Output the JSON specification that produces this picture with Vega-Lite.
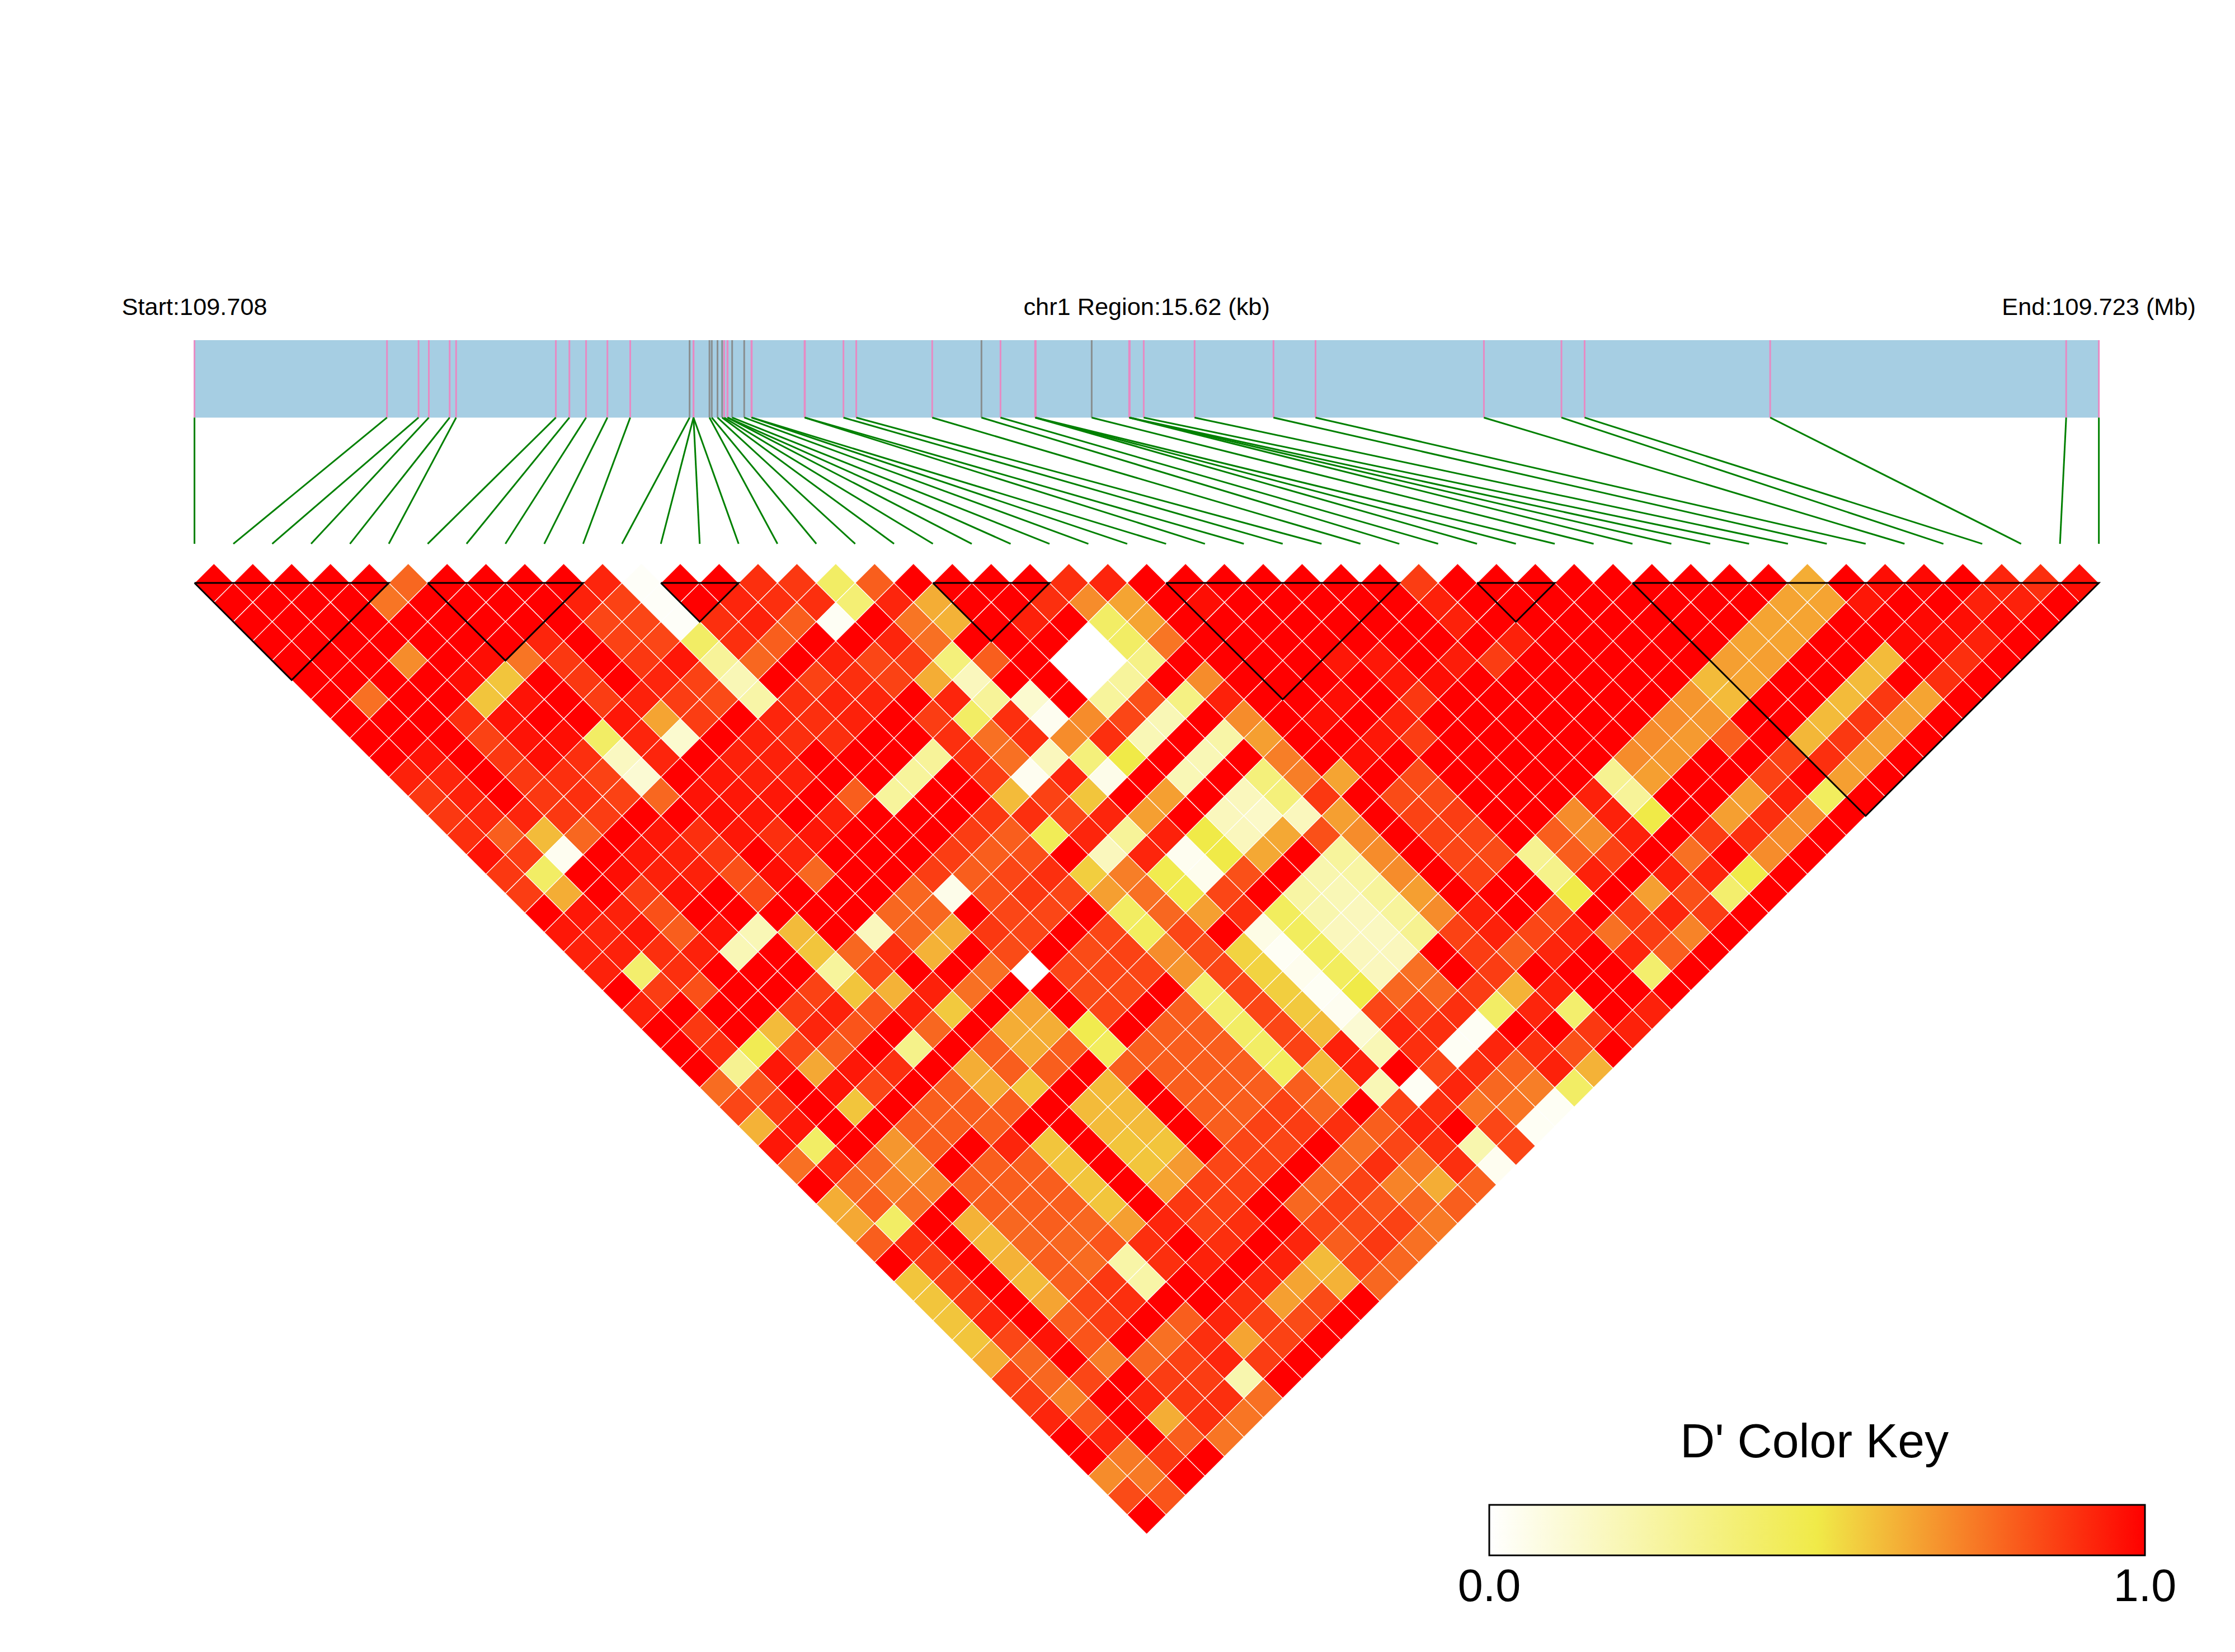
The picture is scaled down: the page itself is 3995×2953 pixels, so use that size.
{"$schema":"https://vega.github.io/schema/vega-lite/v6.json","width":3995,"height":2953,"autosize":{"type":"fit","contains":"padding"},"padding":0,"background":"white","config":{"view":{"stroke":null}},
"datasets":{
"snps":[{"i":1,"kb":0,"k":"p"},{"i":2,"kb":1.579,"k":"p"},{"i":3,"kb":1.838,"k":"p"},{"i":4,"kb":1.922,"k":"p"},{"i":5,"kb":2.093,"k":"p"},{"i":6,"kb":2.146,"k":"p"},{"i":7,"kb":2.964,"k":"p"},{"i":8,"kb":3.075,"k":"p"},{"i":9,"kb":3.212,"k":"p"},{"i":10,"kb":3.387,"k":"p"},{"i":11,"kb":3.574,"k":"p"},{"i":12,"kb":4.061,"k":"g"},{"i":13,"kb":4.093,"k":"p"},{"i":14,"kb":4.093,"k":"p"},{"i":15,"kb":4.093,"k":"p"},{"i":16,"kb":4.224,"k":"g"},{"i":17,"kb":4.243,"k":"g"},{"i":18,"kb":4.29,"k":"g"},{"i":19,"kb":4.328,"k":"g"},{"i":20,"kb":4.345,"k":"p"},{"i":21,"kb":4.371,"k":"p"},{"i":22,"kb":4.373,"k":"p"},{"i":23,"kb":4.41,"k":"g"},{"i":24,"kb":4.509,"k":"g"},{"i":25,"kb":4.568,"k":"p"},{"i":26,"kb":4.571,"k":"p"},{"i":27,"kb":5.004,"k":"p"},{"i":28,"kb":5.007,"k":"p"},{"i":29,"kb":5.323,"k":"p"},{"i":30,"kb":5.428,"k":"p"},{"i":31,"kb":6.051,"k":"p"},{"i":32,"kb":6.455,"k":"g"},{"i":33,"kb":6.611,"k":"p"},{"i":34,"kb":6.895,"k":"p"},{"i":35,"kb":6.897,"k":"p"},{"i":36,"kb":6.9,"k":"p"},{"i":37,"kb":7.359,"k":"g"},{"i":38,"kb":7.666,"k":"p"},{"i":39,"kb":7.669,"k":"p"},{"i":40,"kb":7.671,"k":"p"},{"i":41,"kb":7.786,"k":"p"},{"i":42,"kb":8.203,"k":"p"},{"i":43,"kb":8.85,"k":"p"},{"i":44,"kb":9.195,"k":"p"},{"i":45,"kb":10.576,"k":"p"},{"i":46,"kb":11.212,"k":"p"},{"i":47,"kb":11.402,"k":"p"},{"i":48,"kb":12.924,"k":"p"},{"i":49,"kb":15.352,"k":"p"},{"i":50,"kb":15.62,"k":"p"}],
"blocks":[{"b":1,"o":1,"x":1,"y":1},{"b":1,"o":2,"x":6,"y":1},{"b":1,"o":3,"x":3.5,"y":6},{"b":1,"o":4,"x":1,"y":1},{"b":2,"o":1,"x":7,"y":1},{"b":2,"o":2,"x":11,"y":1},{"b":2,"o":3,"x":9,"y":5},{"b":2,"o":4,"x":7,"y":1},{"b":3,"o":1,"x":13,"y":1},{"b":3,"o":2,"x":15,"y":1},{"b":3,"o":3,"x":14,"y":3},{"b":3,"o":4,"x":13,"y":1},{"b":4,"o":1,"x":20,"y":1},{"b":4,"o":2,"x":23,"y":1},{"b":4,"o":3,"x":21.5,"y":4},{"b":4,"o":4,"x":20,"y":1},{"b":5,"o":1,"x":26,"y":1},{"b":5,"o":2,"x":32,"y":1},{"b":5,"o":3,"x":29,"y":7},{"b":5,"o":4,"x":26,"y":1},{"b":6,"o":1,"x":34,"y":1},{"b":6,"o":2,"x":36,"y":1},{"b":6,"o":3,"x":35,"y":3},{"b":6,"o":4,"x":34,"y":1},{"b":7,"o":1,"x":38,"y":1},{"b":7,"o":2,"x":50,"y":1},{"b":7,"o":3,"x":44,"y":13},{"b":7,"o":4,"x":38,"y":1}],
"cells":[
{"a":1,"d":1,"v":1},{"a":2,"d":1,"v":1},{"a":3,"d":1,"v":1},{"a":4,"d":1,"v":1},{"a":5,"d":1,"v":1},{"a":6,"d":1,"v":0.78},{"a":7,"d":1,"v":1},{"a":8,"d":1,"v":1},{"a":9,"d":1,"v":1},{"a":10,"d":1,"v":1},{"a":11,"d":1,"v":0.92},{"a":12,"d":1,"v":0.02},{"a":13,"d":1,"v":1},{"a":14,"d":1,"v":1},{"a":15,"d":1,"v":0.9},{"a":16,"d":1,"v":0.88},{"a":17,"d":1,"v":0.42},{"a":18,"d":1,"v":0.8},{"a":19,"d":1,"v":1},{"a":20,"d":1,"v":1},{"a":21,"d":1,"v":1},{"a":22,"d":1,"v":1},{"a":23,"d":1,"v":0.9},{"a":24,"d":1,"v":0.92},{"a":25,"d":1,"v":1},{"a":26,"d":1,"v":1},{"a":27,"d":1,"v":1},{"a":28,"d":1,"v":1},{"a":29,"d":1,"v":1},{"a":30,"d":1,"v":1},{"a":31,"d":1,"v":1},{"a":32,"d":1,"v":0.87},{"a":33,"d":1,"v":1},{"a":34,"d":1,"v":1},{"a":35,"d":1,"v":1},{"a":36,"d":1,"v":1},{"a":37,"d":1,"v":1},{"a":38,"d":1,"v":1},{"a":39,"d":1,"v":1},{"a":40,"d":1,"v":1},{"a":41,"d":1,"v":1},{"a":42,"d":1,"v":0.63},{"a":43,"d":1,"v":1},{"a":44,"d":1,"v":0.97},{"a":45,"d":1,"v":0.98},{"a":46,"d":1,"v":1},{"a":47,"d":1,"v":0.92},{"a":48,"d":1,"v":0.9},{"a":49,"d":1,"v":0.97},
{"a":1,"d":2,"v":1},{"a":2,"d":2,"v":1},{"a":3,"d":2,"v":1},{"a":4,"d":2,"v":1},{"a":5,"d":2,"v":0.75},{"a":6,"d":2,"v":1},{"a":7,"d":2,"v":1},{"a":8,"d":2,"v":1},{"a":9,"d":2,"v":1},{"a":10,"d":2,"v":0.93},{"a":11,"d":2,"v":0.86},{"a":12,"d":2,"v":0.02},{"a":13,"d":2,"v":1},{"a":14,"d":2,"v":0.92},{"a":15,"d":2,"v":0.9},{"a":16,"d":2,"v":0.9},{"a":17,"d":2,"v":0.38},{"a":18,"d":2,"v":0.92},{"a":19,"d":2,"v":0.63},{"a":20,"d":2,"v":1},{"a":21,"d":2,"v":1},{"a":22,"d":2,"v":0.9},{"a":23,"d":2,"v":0.7},{"a":24,"d":2,"v":0.65},{"a":25,"d":2,"v":1},{"a":26,"d":2,"v":0.97},{"a":27,"d":2,"v":1},{"a":28,"d":2,"v":1},{"a":29,"d":2,"v":1},{"a":30,"d":2,"v":1},{"a":31,"d":2,"v":1},{"a":32,"d":2,"v":0.93},{"a":33,"d":2,"v":1},{"a":34,"d":2,"v":1},{"a":35,"d":2,"v":1},{"a":36,"d":2,"v":1},{"a":37,"d":2,"v":1},{"a":38,"d":2,"v":1},{"a":39,"d":2,"v":1},{"a":40,"d":2,"v":1},{"a":41,"d":2,"v":0.65},{"a":42,"d":2,"v":0.65},{"a":43,"d":2,"v":0.95},{"a":44,"d":2,"v":1},{"a":45,"d":2,"v":1},{"a":46,"d":2,"v":0.93},{"a":47,"d":2,"v":0.93},{"a":48,"d":2,"v":1},
{"a":1,"d":3,"v":1},{"a":2,"d":3,"v":1},{"a":3,"d":3,"v":1},{"a":4,"d":3,"v":1},{"a":5,"d":3,"v":1},{"a":6,"d":3,"v":1},{"a":7,"d":3,"v":1},{"a":8,"d":3,"v":1},{"a":9,"d":3,"v":1},{"a":10,"d":3,"v":0.85},{"a":11,"d":3,"v":0.85},{"a":12,"d":3,"v":0.02},{"a":13,"d":3,"v":0.9},{"a":14,"d":3,"v":0.93},{"a":15,"d":3,"v":0.8},{"a":16,"d":3,"v":0.03},{"a":17,"d":3,"v":1},{"a":18,"d":3,"v":0.75},{"a":19,"d":3,"v":0.62},{"a":20,"d":3,"v":1},{"a":21,"d":3,"v":0.93},{"a":22,"d":3,"v":1},{"a":23,"d":3,"v":0.42},{"a":24,"d":3,"v":0.65},{"a":25,"d":3,"v":1},{"a":26,"d":3,"v":1},{"a":27,"d":3,"v":1},{"a":28,"d":3,"v":1},{"a":29,"d":3,"v":1},{"a":30,"d":3,"v":1},{"a":31,"d":3,"v":1},{"a":32,"d":3,"v":0.93},{"a":33,"d":3,"v":1},{"a":34,"d":3,"v":1},{"a":35,"d":3,"v":1},{"a":36,"d":3,"v":1},{"a":37,"d":3,"v":1},{"a":38,"d":3,"v":1},{"a":39,"d":3,"v":1},{"a":40,"d":3,"v":0.65},{"a":41,"d":3,"v":0.65},{"a":42,"d":3,"v":1},{"a":43,"d":3,"v":1},{"a":44,"d":3,"v":0.98},{"a":45,"d":3,"v":0.97},{"a":46,"d":3,"v":0.98},{"a":47,"d":3,"v":1},
{"a":1,"d":4,"v":1},{"a":2,"d":4,"v":1},{"a":3,"d":4,"v":1},{"a":4,"d":4,"v":1},{"a":5,"d":4,"v":1},{"a":6,"d":4,"v":1},{"a":7,"d":4,"v":1},{"a":8,"d":4,"v":0.92},{"a":9,"d":4,"v":1},{"a":10,"d":4,"v":0.86},{"a":11,"d":4,"v":0.85},{"a":12,"d":4,"v":0.42},{"a":13,"d":4,"v":0.9},{"a":14,"d":4,"v":0.8},{"a":15,"d":4,"v":1},{"a":16,"d":4,"v":1},{"a":17,"d":4,"v":0.92},{"a":18,"d":4,"v":0.76},{"a":19,"d":4,"v":1},{"a":20,"d":4,"v":1},{"a":21,"d":4,"v":1},{"a":22,"d":4,"v":0},{"a":23,"d":4,"v":0.42},{"a":24,"d":4,"v":0.75},{"a":25,"d":4,"v":1},{"a":26,"d":4,"v":1},{"a":27,"d":4,"v":1},{"a":28,"d":4,"v":1},{"a":29,"d":4,"v":1},{"a":30,"d":4,"v":1},{"a":31,"d":4,"v":1},{"a":32,"d":4,"v":1},{"a":33,"d":4,"v":0.93},{"a":34,"d":4,"v":1},{"a":35,"d":4,"v":1},{"a":36,"d":4,"v":1},{"a":37,"d":4,"v":1},{"a":38,"d":4,"v":1},{"a":39,"d":4,"v":0.65},{"a":40,"d":4,"v":0.65},{"a":41,"d":4,"v":1},{"a":42,"d":4,"v":1},{"a":43,"d":4,"v":0.98},{"a":44,"d":4,"v":0.97},{"a":45,"d":4,"v":0.93},{"a":46,"d":4,"v":1},
{"a":1,"d":5,"v":1},{"a":2,"d":5,"v":1},{"a":3,"d":5,"v":1},{"a":4,"d":5,"v":0.7},{"a":5,"d":5,"v":1},{"a":6,"d":5,"v":0.97},{"a":7,"d":5,"v":0.75},{"a":8,"d":5,"v":0.88},{"a":9,"d":5,"v":1},{"a":10,"d":5,"v":0.88},{"a":11,"d":5,"v":0.95},{"a":12,"d":5,"v":0.28},{"a":13,"d":5,"v":0.78},{"a":14,"d":5,"v":1},{"a":15,"d":5,"v":0.93},{"a":16,"d":5,"v":0.85},{"a":17,"d":5,"v":0.87},{"a":18,"d":5,"v":0.36},{"a":19,"d":5,"v":0.8},{"a":20,"d":5,"v":1},{"a":21,"d":5,"v":0},{"a":22,"d":5,"v":0},{"a":23,"d":5,"v":0.33},{"a":24,"d":5,"v":1},{"a":25,"d":5,"v":1},{"a":26,"d":5,"v":1},{"a":27,"d":5,"v":1},{"a":28,"d":5,"v":0.95},{"a":29,"d":5,"v":0.95},{"a":30,"d":5,"v":1},{"a":31,"d":5,"v":0.94},{"a":32,"d":5,"v":0.87},{"a":33,"d":5,"v":1},{"a":34,"d":5,"v":1},{"a":35,"d":5,"v":1},{"a":36,"d":5,"v":1},{"a":37,"d":5,"v":1},{"a":38,"d":5,"v":0.66},{"a":39,"d":5,"v":0.66},{"a":40,"d":5,"v":1},{"a":41,"d":5,"v":1},{"a":42,"d":5,"v":0.6},{"a":43,"d":5,"v":1},{"a":44,"d":5,"v":0.9},{"a":45,"d":5,"v":1},
{"a":1,"d":6,"v":1},{"a":2,"d":6,"v":1},{"a":3,"d":6,"v":1},{"a":4,"d":6,"v":1},{"a":5,"d":6,"v":0.97},{"a":6,"d":6,"v":0.58},{"a":7,"d":6,"v":1},{"a":8,"d":6,"v":0.88},{"a":9,"d":6,"v":1},{"a":10,"d":6,"v":0.92},{"a":11,"d":6,"v":0.86},{"a":12,"d":6,"v":0.2},{"a":13,"d":6,"v":1},{"a":14,"d":6,"v":0.86},{"a":15,"d":6,"v":0.9},{"a":16,"d":6,"v":0.86},{"a":17,"d":6,"v":0.63},{"a":18,"d":6,"v":0.18},{"a":19,"d":6,"v":1},{"a":20,"d":6,"v":1},{"a":21,"d":6,"v":0},{"a":22,"d":6,"v":0.27},{"a":23,"d":6,"v":1},{"a":24,"d":6,"v":0.7},{"a":25,"d":6,"v":1},{"a":26,"d":6,"v":1},{"a":27,"d":6,"v":1},{"a":28,"d":6,"v":1},{"a":29,"d":6,"v":0.95},{"a":30,"d":6,"v":0.97},{"a":31,"d":6,"v":1},{"a":32,"d":6,"v":1},{"a":33,"d":6,"v":1},{"a":34,"d":6,"v":1},{"a":35,"d":6,"v":1},{"a":36,"d":6,"v":1},{"a":37,"d":6,"v":0.6},{"a":38,"d":6,"v":0.65},{"a":39,"d":6,"v":1},{"a":40,"d":6,"v":1},{"a":41,"d":6,"v":0.6},{"a":42,"d":6,"v":1},{"a":43,"d":6,"v":0.9},{"a":44,"d":6,"v":1},
{"a":1,"d":7,"v":1},{"a":2,"d":7,"v":0.76},{"a":3,"d":7,"v":1},{"a":4,"d":7,"v":1},{"a":5,"d":7,"v":0.58},{"a":6,"d":7,"v":0.96},{"a":7,"d":7,"v":1},{"a":8,"d":7,"v":0.87},{"a":9,"d":7,"v":0.93},{"a":10,"d":7,"v":0.87},{"a":11,"d":7,"v":0.84},{"a":12,"d":7,"v":0.24},{"a":13,"d":7,"v":0.9},{"a":14,"d":7,"v":0.92},{"a":15,"d":7,"v":0.92},{"a":16,"d":7,"v":1},{"a":17,"d":7,"v":0.92},{"a":18,"d":7,"v":0.28},{"a":19,"d":7,"v":0.13},{"a":20,"d":7,"v":1},{"a":21,"d":7,"v":0.27},{"a":22,"d":7,"v":0.83},{"a":23,"d":7,"v":0.34},{"a":24,"d":7,"v":0.93},{"a":25,"d":7,"v":1},{"a":26,"d":7,"v":1},{"a":27,"d":7,"v":0.97},{"a":28,"d":7,"v":1},{"a":29,"d":7,"v":0.88},{"a":30,"d":7,"v":1},{"a":31,"d":7,"v":1},{"a":32,"d":7,"v":1},{"a":33,"d":7,"v":1},{"a":34,"d":7,"v":1},{"a":35,"d":7,"v":1},{"a":36,"d":7,"v":0.68},{"a":37,"d":7,"v":0.6},{"a":38,"d":7,"v":1},{"a":39,"d":7,"v":1},{"a":40,"d":7,"v":0.6},{"a":41,"d":7,"v":0.88},{"a":42,"d":7,"v":0.65},{"a":43,"d":7,"v":1},
{"a":1,"d":8,"v":1},{"a":2,"d":8,"v":1},{"a":3,"d":8,"v":1},{"a":4,"d":8,"v":0.9},{"a":5,"d":8,"v":0.96},{"a":6,"d":8,"v":1},{"a":7,"d":8,"v":1},{"a":8,"d":8,"v":0.95},{"a":9,"d":8,"v":0.65},{"a":10,"d":8,"v":0.87},{"a":11,"d":8,"v":1},{"a":12,"d":8,"v":0.92},{"a":13,"d":8,"v":0.9},{"a":14,"d":8,"v":0.93},{"a":15,"d":8,"v":1},{"a":16,"d":8,"v":0.87},{"a":17,"d":8,"v":0.42},{"a":18,"d":8,"v":0.9},{"a":19,"d":8,"v":0.04},{"a":20,"d":8,"v":0.7},{"a":21,"d":8,"v":0.85},{"a":22,"d":8,"v":0.2},{"a":23,"d":8,"v":1},{"a":24,"d":8,"v":0.7},{"a":25,"d":8,"v":1},{"a":26,"d":8,"v":0.97},{"a":27,"d":8,"v":1},{"a":28,"d":8,"v":0.93},{"a":29,"d":8,"v":1},{"a":30,"d":8,"v":1},{"a":31,"d":8,"v":1},{"a":32,"d":8,"v":1},{"a":33,"d":8,"v":1},{"a":34,"d":8,"v":1},{"a":35,"d":8,"v":0.7},{"a":36,"d":8,"v":0.68},{"a":37,"d":8,"v":1},{"a":38,"d":8,"v":1},{"a":39,"d":8,"v":0.6},{"a":40,"d":8,"v":0.88},{"a":41,"d":8,"v":0.66},{"a":42,"d":8,"v":1},
{"a":1,"d":9,"v":1},{"a":2,"d":9,"v":1},{"a":3,"d":9,"v":1},{"a":4,"d":9,"v":0.86},{"a":5,"d":9,"v":0.96},{"a":6,"d":9,"v":0.97},{"a":7,"d":9,"v":0.42},{"a":8,"d":9,"v":0.92},{"a":9,"d":9,"v":0.13},{"a":10,"d":9,"v":1},{"a":11,"d":9,"v":0.93},{"a":12,"d":9,"v":0.9},{"a":13,"d":9,"v":0.9},{"a":14,"d":9,"v":1},{"a":15,"d":9,"v":1},{"a":16,"d":9,"v":0.9},{"a":17,"d":9,"v":0.76},{"a":18,"d":9,"v":0.9},{"a":19,"d":9,"v":0.7},{"a":20,"d":9,"v":0.9},{"a":21,"d":9,"v":0.2},{"a":22,"d":9,"v":1},{"a":23,"d":9,"v":0.24},{"a":24,"d":9,"v":0.66},{"a":25,"d":9,"v":1},{"a":26,"d":9,"v":1},{"a":27,"d":9,"v":0.95},{"a":28,"d":9,"v":0.87},{"a":29,"d":9,"v":1},{"a":30,"d":9,"v":1},{"a":31,"d":9,"v":1},{"a":32,"d":9,"v":1},{"a":33,"d":9,"v":1},{"a":34,"d":9,"v":0.7},{"a":35,"d":9,"v":0.67},{"a":36,"d":9,"v":0.8},{"a":37,"d":9,"v":1},{"a":38,"d":9,"v":0.61},{"a":39,"d":9,"v":0.88},{"a":40,"d":9,"v":0.66},{"a":41,"d":9,"v":1},
{"a":1,"d":10,"v":1},{"a":2,"d":10,"v":0.96},{"a":3,"d":10,"v":1},{"a":4,"d":10,"v":0.88},{"a":5,"d":10,"v":0.97},{"a":6,"d":10,"v":0.9},{"a":7,"d":10,"v":0.17},{"a":8,"d":10,"v":0.92},{"a":9,"d":10,"v":1},{"a":10,"d":10,"v":0.93},{"a":11,"d":10,"v":0.93},{"a":12,"d":10,"v":1},{"a":13,"d":10,"v":1},{"a":14,"d":10,"v":1},{"a":15,"d":10,"v":0.28},{"a":16,"d":10,"v":0.9},{"a":17,"d":10,"v":0.76},{"a":18,"d":10,"v":0.18},{"a":19,"d":10,"v":0.36},{"a":20,"d":10,"v":0.5},{"a":21,"d":10,"v":1},{"a":22,"d":10,"v":0.2},{"a":23,"d":10,"v":1},{"a":24,"d":10,"v":0.73},{"a":25,"d":10,"v":1},{"a":26,"d":10,"v":0.97},{"a":27,"d":10,"v":1},{"a":28,"d":10,"v":1},{"a":29,"d":10,"v":1},{"a":30,"d":10,"v":1},{"a":31,"d":10,"v":1},{"a":32,"d":10,"v":1},{"a":33,"d":10,"v":0.7},{"a":34,"d":10,"v":0.68},{"a":35,"d":10,"v":1},{"a":36,"d":10,"v":1},{"a":37,"d":10,"v":0.86},{"a":38,"d":10,"v":0.9},{"a":39,"d":10,"v":0.66},{"a":40,"d":10,"v":1},
{"a":1,"d":11,"v":0.93},{"a":2,"d":11,"v":0.92},{"a":3,"d":11,"v":1},{"a":4,"d":11,"v":0.88},{"a":5,"d":11,"v":0.9},{"a":6,"d":11,"v":0.86},{"a":7,"d":11,"v":0.12},{"a":8,"d":11,"v":1},{"a":9,"d":11,"v":0.95},{"a":10,"d":11,"v":0.93},{"a":11,"d":11,"v":0.93},{"a":12,"d":11,"v":1},{"a":13,"d":11,"v":1},{"a":14,"d":11,"v":0.27},{"a":15,"d":11,"v":1},{"a":16,"d":11,"v":0.87},{"a":17,"d":11,"v":0.04},{"a":18,"d":11,"v":0.92},{"a":19,"d":11,"v":0.06},{"a":20,"d":11,"v":1},{"a":21,"d":11,"v":0.2},{"a":22,"d":11,"v":1},{"a":23,"d":11,"v":0.36},{"a":24,"d":11,"v":0.73},{"a":25,"d":11,"v":0.65},{"a":26,"d":11,"v":1},{"a":27,"d":11,"v":0.84},{"a":28,"d":11,"v":1},{"a":29,"d":11,"v":1},{"a":30,"d":11,"v":1},{"a":31,"d":11,"v":1},{"a":32,"d":11,"v":0.3},{"a":33,"d":11,"v":0.66},{"a":34,"d":11,"v":1},{"a":35,"d":11,"v":1},{"a":36,"d":11,"v":0.86},{"a":37,"d":11,"v":1},{"a":38,"d":11,"v":0.66},{"a":39,"d":11,"v":1},
{"a":1,"d":12,"v":0.88},{"a":2,"d":12,"v":0.93},{"a":3,"d":12,"v":1},{"a":4,"d":12,"v":0.88},{"a":5,"d":12,"v":0.9},{"a":6,"d":12,"v":0.86},{"a":7,"d":12,"v":0.78},{"a":8,"d":12,"v":0.96},{"a":9,"d":12,"v":0.95},{"a":10,"d":12,"v":0.95},{"a":11,"d":12,"v":1},{"a":12,"d":12,"v":0.8},{"a":13,"d":12,"v":0.27},{"a":14,"d":12,"v":1},{"a":15,"d":12,"v":1},{"a":16,"d":12,"v":0.6},{"a":17,"d":12,"v":0.86},{"a":18,"d":12,"v":0.58},{"a":19,"d":12,"v":1},{"a":20,"d":12,"v":0.66},{"a":21,"d":12,"v":1},{"a":22,"d":12,"v":0.18},{"a":23,"d":12,"v":0.36},{"a":24,"d":12,"v":0.88},{"a":25,"d":12,"v":1},{"a":26,"d":12,"v":0.84},{"a":27,"d":12,"v":0.84},{"a":28,"d":12,"v":1},{"a":29,"d":12,"v":1},{"a":30,"d":12,"v":1},{"a":31,"d":12,"v":0.93},{"a":32,"d":12,"v":0.28},{"a":33,"d":12,"v":1},{"a":34,"d":12,"v":1},{"a":35,"d":12,"v":0.66},{"a":36,"d":12,"v":0.93},{"a":37,"d":12,"v":0.44},{"a":38,"d":12,"v":1},
{"a":1,"d":13,"v":0.88},{"a":2,"d":13,"v":0.92},{"a":3,"d":13,"v":0.92},{"a":4,"d":13,"v":0.88},{"a":5,"d":13,"v":0.87},{"a":6,"d":13,"v":1},{"a":7,"d":13,"v":1},{"a":8,"d":13,"v":0.97},{"a":9,"d":13,"v":0.95},{"a":10,"d":13,"v":1},{"a":11,"d":13,"v":0.93},{"a":12,"d":13,"v":1},{"a":13,"d":13,"v":1},{"a":14,"d":13,"v":1},{"a":15,"d":13,"v":0.88},{"a":16,"d":13,"v":0.9},{"a":17,"d":13,"v":0.85},{"a":18,"d":13,"v":0.92},{"a":19,"d":13,"v":0.66},{"a":20,"d":13,"v":1},{"a":21,"d":13,"v":0.18},{"a":22,"d":13,"v":0.15},{"a":23,"d":13,"v":0.18},{"a":24,"d":13,"v":0.66},{"a":25,"d":13,"v":1},{"a":26,"d":13,"v":0.86},{"a":27,"d":13,"v":0.87},{"a":28,"d":13,"v":1},{"a":29,"d":13,"v":1},{"a":30,"d":13,"v":0.7},{"a":31,"d":13,"v":0.93},{"a":32,"d":13,"v":0.5},{"a":33,"d":13,"v":1},{"a":34,"d":13,"v":0.66},{"a":35,"d":13,"v":0.9},{"a":36,"d":13,"v":0.7},{"a":37,"d":13,"v":1},
{"a":1,"d":14,"v":0.9},{"a":2,"d":14,"v":0.8},{"a":3,"d":14,"v":0.6},{"a":4,"d":14,"v":0.78},{"a":5,"d":14,"v":1},{"a":6,"d":14,"v":0.95},{"a":7,"d":14,"v":0.9},{"a":8,"d":14,"v":0.95},{"a":9,"d":14,"v":0.9},{"a":10,"d":14,"v":0.95},{"a":11,"d":14,"v":1},{"a":12,"d":14,"v":1},{"a":13,"d":14,"v":1},{"a":14,"d":14,"v":0.87},{"a":15,"d":14,"v":0.8},{"a":16,"d":14,"v":0.46},{"a":17,"d":14,"v":0.92},{"a":18,"d":14,"v":0.28},{"a":19,"d":14,"v":0.93},{"a":20,"d":14,"v":0.5},{"a":21,"d":14,"v":0.18},{"a":22,"d":14,"v":0.64},{"a":23,"d":14,"v":0.83},{"a":24,"d":14,"v":0.7},{"a":25,"d":14,"v":1},{"a":26,"d":14,"v":0.86},{"a":27,"d":14,"v":0.85},{"a":28,"d":14,"v":1},{"a":29,"d":14,"v":0.8},{"a":30,"d":14,"v":0.7},{"a":31,"d":14,"v":0.93},{"a":32,"d":14,"v":1},{"a":33,"d":14,"v":0.87},{"a":34,"d":14,"v":0.9},{"a":35,"d":14,"v":0.7},{"a":36,"d":14,"v":1},
{"a":1,"d":15,"v":0.96},{"a":2,"d":15,"v":0.87},{"a":3,"d":15,"v":0.04},{"a":4,"d":15,"v":1},{"a":5,"d":15,"v":0.95},{"a":6,"d":15,"v":0.93},{"a":7,"d":15,"v":0.88},{"a":8,"d":15,"v":1},{"a":9,"d":15,"v":0.92},{"a":10,"d":15,"v":1},{"a":11,"d":15,"v":1},{"a":12,"d":15,"v":1},{"a":13,"d":15,"v":0.87},{"a":14,"d":15,"v":0.8},{"a":15,"d":15,"v":0.83},{"a":16,"d":15,"v":1},{"a":17,"d":15,"v":0.18},{"a":18,"d":15,"v":0.92},{"a":19,"d":15,"v":0.04},{"a":20,"d":15,"v":0.5},{"a":21,"d":15,"v":0.64},{"a":22,"d":15,"v":1},{"a":23,"d":15,"v":0.27},{"a":24,"d":15,"v":0.7},{"a":25,"d":15,"v":1},{"a":26,"d":15,"v":0.85},{"a":27,"d":15,"v":0.84},{"a":28,"d":15,"v":0.3},{"a":29,"d":15,"v":0.8},{"a":30,"d":15,"v":0.86},{"a":31,"d":15,"v":1},{"a":32,"d":15,"v":0.76},{"a":33,"d":15,"v":1},{"a":34,"d":15,"v":0.7},{"a":35,"d":15,"v":1},
{"a":1,"d":16,"v":0.88},{"a":2,"d":16,"v":0.42},{"a":3,"d":16,"v":1},{"a":4,"d":16,"v":0.97},{"a":5,"d":16,"v":0.93},{"a":6,"d":16,"v":0.93},{"a":7,"d":16,"v":0.83},{"a":8,"d":16,"v":0.97},{"a":9,"d":16,"v":0.78},{"a":10,"d":16,"v":1},{"a":11,"d":16,"v":1},{"a":12,"d":16,"v":0.87},{"a":13,"d":16,"v":0.8},{"a":14,"d":16,"v":0.85},{"a":15,"d":16,"v":0.9},{"a":16,"d":16,"v":0.56},{"a":17,"d":16,"v":0.73},{"a":18,"d":16,"v":0.48},{"a":19,"d":16,"v":0.05},{"a":20,"d":16,"v":0.83},{"a":21,"d":16,"v":1},{"a":22,"d":16,"v":0.22},{"a":23,"d":16,"v":0.25},{"a":24,"d":16,"v":0.7},{"a":25,"d":16,"v":1},{"a":26,"d":16,"v":0.86},{"a":27,"d":16,"v":1},{"a":28,"d":16,"v":0.32},{"a":29,"d":16,"v":0.93},{"a":30,"d":16,"v":1},{"a":31,"d":16,"v":0.93},{"a":32,"d":16,"v":0.92},{"a":33,"d":16,"v":0.5},{"a":34,"d":16,"v":1},
{"a":1,"d":17,"v":0.87},{"a":2,"d":17,"v":0.63},{"a":3,"d":17,"v":1},{"a":4,"d":17,"v":0.87},{"a":5,"d":17,"v":0.96},{"a":6,"d":17,"v":1},{"a":7,"d":17,"v":0.84},{"a":8,"d":17,"v":1},{"a":9,"d":17,"v":1},{"a":10,"d":17,"v":1},{"a":11,"d":17,"v":0.78},{"a":12,"d":17,"v":0.06},{"a":13,"d":17,"v":0.83},{"a":14,"d":17,"v":0.88},{"a":15,"d":17,"v":0.85},{"a":16,"d":17,"v":0.66},{"a":17,"d":17,"v":0.76},{"a":18,"d":17,"v":0.48},{"a":19,"d":17,"v":0.85},{"a":20,"d":17,"v":1},{"a":21,"d":17,"v":0.25},{"a":22,"d":17,"v":0.2},{"a":23,"d":17,"v":0.27},{"a":24,"d":17,"v":0.66},{"a":25,"d":17,"v":1},{"a":26,"d":17,"v":1},{"a":27,"d":17,"v":1},{"a":28,"d":17,"v":0.5},{"a":29,"d":17,"v":1},{"a":30,"d":17,"v":0.66},{"a":31,"d":17,"v":0.83},{"a":32,"d":17,"v":0.4},{"a":33,"d":17,"v":1},
{"a":1,"d":18,"v":1},{"a":2,"d":18,"v":0.95},{"a":3,"d":18,"v":0.93},{"a":4,"d":18,"v":0.83},{"a":5,"d":18,"v":1},{"a":6,"d":18,"v":1},{"a":7,"d":18,"v":1},{"a":8,"d":18,"v":1},{"a":9,"d":18,"v":1},{"a":10,"d":18,"v":0.78},{"a":11,"d":18,"v":0.78},{"a":12,"d":18,"v":1},{"a":13,"d":18,"v":0.85},{"a":14,"d":18,"v":0.85},{"a":15,"d":18,"v":1},{"a":16,"d":18,"v":0.43},{"a":17,"d":18,"v":0.78},{"a":18,"d":18,"v":0.66},{"a":19,"d":18,"v":0.9},{"a":20,"d":18,"v":0.44},{"a":21,"d":18,"v":0.22},{"a":22,"d":18,"v":0.18},{"a":23,"d":18,"v":0.27},{"a":24,"d":18,"v":0.7},{"a":25,"d":18,"v":0.93},{"a":26,"d":18,"v":1},{"a":27,"d":18,"v":0.84},{"a":28,"d":18,"v":1},{"a":29,"d":18,"v":0.87},{"a":30,"d":18,"v":0.92},{"a":31,"d":18,"v":0.87},{"a":32,"d":18,"v":1},
{"a":1,"d":19,"v":0.95},{"a":2,"d":19,"v":0.92},{"a":3,"d":19,"v":0.95},{"a":4,"d":19,"v":0.8},{"a":5,"d":19,"v":0.96},{"a":6,"d":19,"v":0.2},{"a":7,"d":19,"v":0.6},{"a":8,"d":19,"v":1},{"a":9,"d":19,"v":0.18},{"a":10,"d":19,"v":0.78},{"a":11,"d":19,"v":0.63},{"a":12,"d":19,"v":0.88},{"a":13,"d":19,"v":0.85},{"a":14,"d":19,"v":1},{"a":15,"d":19,"v":0.85},{"a":16,"d":19,"v":0.44},{"a":17,"d":19,"v":0.85},{"a":18,"d":19,"v":1},{"a":19,"d":19,"v":0.07},{"a":20,"d":19,"v":0.44},{"a":21,"d":19,"v":0.18},{"a":22,"d":19,"v":0.17},{"a":23,"d":19,"v":0.3},{"a":24,"d":19,"v":0.86},{"a":25,"d":19,"v":0.93},{"a":26,"d":19,"v":0.85},{"a":27,"d":19,"v":0.92},{"a":28,"d":19,"v":0.76},{"a":29,"d":19,"v":0.87},{"a":30,"d":19,"v":0.72},{"a":31,"d":19,"v":1},
{"a":1,"d":20,"v":0.93},{"a":2,"d":20,"v":0.93},{"a":3,"d":20,"v":0.9},{"a":4,"d":20,"v":0.93},{"a":5,"d":20,"v":0.2},{"a":6,"d":20,"v":1},{"a":7,"d":20,"v":0.58},{"a":8,"d":20,"v":0.78},{"a":9,"d":20,"v":0.9},{"a":10,"d":20,"v":0.62},{"a":11,"d":20,"v":1},{"a":12,"d":20,"v":0.84},{"a":13,"d":20,"v":1},{"a":14,"d":20,"v":0.84},{"a":15,"d":20,"v":0.86},{"a":16,"d":20,"v":0.7},{"a":17,"d":20,"v":0.84},{"a":18,"d":20,"v":0.55},{"a":19,"d":20,"v":0.03},{"a":20,"d":20,"v":0.44},{"a":21,"d":20,"v":0.18},{"a":22,"d":20,"v":0.18},{"a":23,"d":20,"v":1},{"a":24,"d":20,"v":0.87},{"a":25,"d":20,"v":0.8},{"a":26,"d":20,"v":0.92},{"a":27,"d":20,"v":1},{"a":28,"d":20,"v":0.92},{"a":29,"d":20,"v":0.8},{"a":30,"d":20,"v":1},
{"a":1,"d":21,"v":0.93},{"a":2,"d":21,"v":0.4},{"a":3,"d":21,"v":0.9},{"a":4,"d":21,"v":1},{"a":5,"d":21,"v":1},{"a":6,"d":21,"v":1},{"a":7,"d":21,"v":0.27},{"a":8,"d":21,"v":0.85},{"a":9,"d":21,"v":1},{"a":10,"d":21,"v":1},{"a":11,"d":21,"v":0.76},{"a":12,"d":21,"v":0},{"a":13,"d":21,"v":0.85},{"a":14,"d":21,"v":0.85},{"a":15,"d":21,"v":0.85},{"a":16,"d":21,"v":0.68},{"a":17,"d":21,"v":0.85},{"a":18,"d":21,"v":0.55},{"a":19,"d":21,"v":0.05},{"a":20,"d":21,"v":0.44},{"a":21,"d":21,"v":0.18},{"a":22,"d":21,"v":0.76},{"a":23,"d":21,"v":1},{"a":24,"d":21,"v":0.87},{"a":25,"d":21,"v":1},{"a":26,"d":21,"v":1},{"a":27,"d":21,"v":1},{"a":28,"d":21,"v":0.4},{"a":29,"d":21,"v":1},
{"a":1,"d":22,"v":1},{"a":2,"d":22,"v":0.87},{"a":3,"d":22,"v":0.83},{"a":4,"d":22,"v":1},{"a":5,"d":22,"v":1},{"a":6,"d":22,"v":0.86},{"a":7,"d":22,"v":0.58},{"a":8,"d":22,"v":0.62},{"a":9,"d":22,"v":0.93},{"a":10,"d":22,"v":0.76},{"a":11,"d":22,"v":1},{"a":12,"d":22,"v":1},{"a":13,"d":22,"v":0.84},{"a":14,"d":22,"v":0.84},{"a":15,"d":22,"v":1},{"a":16,"d":22,"v":0.4},{"a":17,"d":22,"v":0.85},{"a":18,"d":22,"v":0.56},{"a":19,"d":22,"v":0.03},{"a":20,"d":22,"v":0.5},{"a":21,"d":22,"v":0.78},{"a":22,"d":22,"v":0.78},{"a":23,"d":22,"v":0.87},{"a":24,"d":22,"v":0.62},{"a":25,"d":22,"v":0.93},{"a":26,"d":22,"v":1},{"a":27,"d":22,"v":1},{"a":28,"d":22,"v":1},
{"a":1,"d":23,"v":0.93},{"a":2,"d":23,"v":1},{"a":3,"d":23,"v":1},{"a":4,"d":23,"v":1},{"a":5,"d":23,"v":0.87},{"a":6,"d":23,"v":0.93},{"a":7,"d":23,"v":0.82},{"a":8,"d":23,"v":0.93},{"a":9,"d":23,"v":0.57},{"a":10,"d":23,"v":1},{"a":11,"d":23,"v":0.65},{"a":12,"d":23,"v":1},{"a":13,"d":23,"v":0.85},{"a":14,"d":23,"v":1},{"a":15,"d":23,"v":0.8},{"a":16,"d":23,"v":0.4},{"a":17,"d":23,"v":0.85},{"a":18,"d":23,"v":0.57},{"a":19,"d":23,"v":0.04},{"a":20,"d":23,"v":0.85},{"a":21,"d":23,"v":0.85},{"a":22,"d":23,"v":0.9},{"a":23,"d":23,"v":0.42},{"a":24,"d":23,"v":0.92},{"a":25,"d":23,"v":0.4},{"a":26,"d":23,"v":1},{"a":27,"d":23,"v":0.93},
{"a":1,"d":24,"v":1},{"a":2,"d":24,"v":0.88},{"a":3,"d":24,"v":1},{"a":4,"d":24,"v":0.6},{"a":5,"d":24,"v":0.92},{"a":6,"d":24,"v":0.82},{"a":7,"d":24,"v":1},{"a":8,"d":24,"v":0.78},{"a":9,"d":24,"v":1},{"a":10,"d":24,"v":0.63},{"a":11,"d":24,"v":0.63},{"a":12,"d":24,"v":0.48},{"a":13,"d":24,"v":1},{"a":14,"d":24,"v":0.8},{"a":15,"d":24,"v":0.8},{"a":16,"d":24,"v":0.42},{"a":17,"d":24,"v":0.85},{"a":18,"d":24,"v":0.6},{"a":19,"d":24,"v":0.12},{"a":20,"d":24,"v":0.92},{"a":21,"d":24,"v":0.9},{"a":22,"d":24,"v":0.03},{"a":23,"d":24,"v":1},{"a":24,"d":24,"v":1},{"a":25,"d":24,"v":0.88},{"a":26,"d":24,"v":0.93},
{"a":1,"d":25,"v":1},{"a":2,"d":25,"v":0.9},{"a":3,"d":25,"v":0.47},{"a":4,"d":25,"v":0.85},{"a":5,"d":25,"v":0.8},{"a":6,"d":25,"v":1},{"a":7,"d":25,"v":0.32},{"a":8,"d":25,"v":1},{"a":9,"d":25,"v":0.8},{"a":10,"d":25,"v":0.63},{"a":11,"d":25,"v":0.8},{"a":12,"d":25,"v":0.44},{"a":13,"d":25,"v":0.8},{"a":14,"d":25,"v":0.8},{"a":15,"d":25,"v":0.8},{"a":16,"d":25,"v":0.42},{"a":17,"d":25,"v":0.86},{"a":18,"d":25,"v":0.93},{"a":19,"d":25,"v":0.2},{"a":20,"d":25,"v":0.9},{"a":21,"d":25,"v":0.03},{"a":22,"d":25,"v":0.92},{"a":23,"d":25,"v":0.9},{"a":24,"d":25,"v":0.83},{"a":25,"d":25,"v":1},
{"a":1,"d":26,"v":1},{"a":2,"d":26,"v":0.3},{"a":3,"d":26,"v":0.95},{"a":4,"d":26,"v":0.64},{"a":5,"d":26,"v":0.95},{"a":6,"d":26,"v":0.9},{"a":7,"d":26,"v":1},{"a":8,"d":26,"v":0.63},{"a":9,"d":26,"v":0.8},{"a":10,"d":26,"v":0.8},{"a":11,"d":26,"v":1},{"a":12,"d":26,"v":0.8},{"a":13,"d":26,"v":0.8},{"a":14,"d":26,"v":0.8},{"a":15,"d":26,"v":0.8},{"a":16,"d":26,"v":0.44},{"a":17,"d":26,"v":0.6},{"a":18,"d":26,"v":0.93},{"a":19,"d":26,"v":1},{"a":20,"d":26,"v":0.85},{"a":21,"d":26,"v":0.9},{"a":22,"d":26,"v":0.79},{"a":23,"d":26,"v":0.93},{"a":24,"d":26,"v":0.62},
{"a":1,"d":27,"v":0.77},{"a":2,"d":27,"v":0.82},{"a":3,"d":27,"v":1},{"a":4,"d":27,"v":0.96},{"a":5,"d":27,"v":0.85},{"a":6,"d":27,"v":1},{"a":7,"d":27,"v":0.8},{"a":8,"d":27,"v":0.63},{"a":9,"d":27,"v":0.58},{"a":10,"d":27,"v":1},{"a":11,"d":27,"v":0.6},{"a":12,"d":27,"v":1},{"a":13,"d":27,"v":0.8},{"a":14,"d":27,"v":0.8},{"a":15,"d":27,"v":0.8},{"a":16,"d":27,"v":0.8},{"a":17,"d":27,"v":0.62},{"a":18,"d":27,"v":0.2},{"a":19,"d":27,"v":0.03},{"a":20,"d":27,"v":0.92},{"a":21,"d":27,"v":0.78},{"a":22,"d":27,"v":0.73},{"a":23,"d":27,"v":0.42},
{"a":1,"d":28,"v":0.85},{"a":2,"d":28,"v":0.88},{"a":3,"d":28,"v":1},{"a":4,"d":28,"v":0.58},{"a":5,"d":28,"v":1},{"a":6,"d":28,"v":0.8},{"a":7,"d":28,"v":0.8},{"a":8,"d":28,"v":0.8},{"a":9,"d":28,"v":1},{"a":10,"d":28,"v":0.6},{"a":11,"d":28,"v":0.6},{"a":12,"d":28,"v":1},{"a":13,"d":28,"v":0.8},{"a":14,"d":28,"v":0.8},{"a":15,"d":28,"v":0.86},{"a":16,"d":28,"v":0.78},{"a":17,"d":28,"v":1},{"a":18,"d":28,"v":0.86},{"a":19,"d":28,"v":0.9},{"a":20,"d":28,"v":0.75},{"a":21,"d":28,"v":0.75},{"a":22,"d":28,"v":0.03},
{"a":1,"d":29,"v":0.62},{"a":2,"d":29,"v":0.95},{"a":3,"d":29,"v":1},{"a":4,"d":29,"v":1},{"a":5,"d":29,"v":0.8},{"a":6,"d":29,"v":0.8},{"a":7,"d":29,"v":0.8},{"a":8,"d":29,"v":1},{"a":9,"d":29,"v":1},{"a":10,"d":29,"v":0.6},{"a":11,"d":29,"v":0.6},{"a":12,"d":29,"v":1},{"a":13,"d":29,"v":0.8},{"a":14,"d":29,"v":0.86},{"a":15,"d":29,"v":0.87},{"a":16,"d":29,"v":0.9},{"a":17,"d":29,"v":0.8},{"a":18,"d":29,"v":0.92},{"a":19,"d":29,"v":1},{"a":20,"d":29,"v":0.85},{"a":21,"d":29,"v":0.03},
{"a":1,"d":30,"v":0.95},{"a":2,"d":30,"v":0.42},{"a":3,"d":30,"v":1},{"a":4,"d":30,"v":0.68},{"a":5,"d":30,"v":0.8},{"a":6,"d":30,"v":1},{"a":7,"d":30,"v":0.92},{"a":8,"d":30,"v":0.58},{"a":9,"d":30,"v":1},{"a":10,"d":30,"v":0.58},{"a":11,"d":30,"v":0.58},{"a":12,"d":30,"v":1},{"a":13,"d":30,"v":0.85},{"a":14,"d":30,"v":0.85},{"a":15,"d":30,"v":1},{"a":16,"d":30,"v":0.76},{"a":17,"d":30,"v":0.85},{"a":18,"d":30,"v":0.9},{"a":19,"d":30,"v":0.22},{"a":20,"d":30,"v":0.85},
{"a":1,"d":31,"v":0.76},{"a":2,"d":31,"v":0.92},{"a":3,"d":31,"v":0.78},{"a":4,"d":31,"v":0.67},{"a":5,"d":31,"v":1},{"a":6,"d":31,"v":0.8},{"a":7,"d":31,"v":0.8},{"a":8,"d":31,"v":0.58},{"a":9,"d":31,"v":1},{"a":10,"d":31,"v":0.58},{"a":11,"d":31,"v":0.67},{"a":12,"d":31,"v":0.85},{"a":13,"d":31,"v":0.86},{"a":14,"d":31,"v":1},{"a":15,"d":31,"v":0.78},{"a":16,"d":31,"v":0.9},{"a":17,"d":31,"v":0.75},{"a":18,"d":31,"v":0.9},{"a":19,"d":31,"v":0.04},
{"a":1,"d":32,"v":1},{"a":2,"d":32,"v":0.78},{"a":3,"d":32,"v":0.72},{"a":4,"d":32,"v":0.72},{"a":5,"d":32,"v":0.8},{"a":6,"d":32,"v":0.8},{"a":7,"d":32,"v":0.8},{"a":8,"d":32,"v":0.58},{"a":9,"d":32,"v":1},{"a":10,"d":32,"v":0.65},{"a":11,"d":32,"v":0.86},{"a":12,"d":32,"v":0.86},{"a":13,"d":32,"v":1},{"a":14,"d":32,"v":0.78},{"a":15,"d":32,"v":0.86},{"a":16,"d":32,"v":0.72},{"a":17,"d":32,"v":0.63},{"a":18,"d":32,"v":0.79},
{"a":1,"d":33,"v":0.63},{"a":2,"d":33,"v":0.8},{"a":3,"d":33,"v":0.76},{"a":4,"d":33,"v":1},{"a":5,"d":33,"v":0.8},{"a":6,"d":33,"v":0.8},{"a":7,"d":33,"v":0.8},{"a":8,"d":33,"v":0.58},{"a":9,"d":33,"v":1},{"a":10,"d":33,"v":0.88},{"a":11,"d":33,"v":0.86},{"a":12,"d":33,"v":1},{"a":13,"d":33,"v":0.78},{"a":14,"d":33,"v":0.86},{"a":15,"d":33,"v":0.82},{"a":16,"d":33,"v":0.78},{"a":17,"d":33,"v":0.8},
{"a":1,"d":34,"v":0.64},{"a":2,"d":34,"v":0.42},{"a":3,"d":34,"v":1},{"a":4,"d":34,"v":0.62},{"a":5,"d":34,"v":0.78},{"a":6,"d":34,"v":0.8},{"a":7,"d":34,"v":0.78},{"a":8,"d":34,"v":0.66},{"a":9,"d":34,"v":0.92},{"a":10,"d":34,"v":0.86},{"a":11,"d":34,"v":0.9},{"a":12,"d":34,"v":1},{"a":13,"d":34,"v":0.85},{"a":14,"d":34,"v":0.84},{"a":15,"d":34,"v":0.86},{"a":16,"d":34,"v":0.74},
{"a":1,"d":35,"v":0.8},{"a":2,"d":35,"v":0.9},{"a":3,"d":35,"v":1},{"a":4,"d":35,"v":0.6},{"a":5,"d":35,"v":0.78},{"a":6,"d":35,"v":0.78},{"a":7,"d":35,"v":0.82},{"a":8,"d":35,"v":0.9},{"a":9,"d":35,"v":1},{"a":10,"d":35,"v":0.9},{"a":11,"d":35,"v":1},{"a":12,"d":35,"v":0.92},{"a":13,"d":35,"v":0.8},{"a":14,"d":35,"v":0.88},{"a":15,"d":35,"v":0.76},
{"a":1,"d":36,"v":1},{"a":2,"d":36,"v":0.87},{"a":3,"d":36,"v":1},{"a":4,"d":36,"v":0.62},{"a":5,"d":36,"v":0.8},{"a":6,"d":36,"v":0.77},{"a":7,"d":36,"v":0.24},{"a":8,"d":36,"v":0.9},{"a":9,"d":36,"v":0.93},{"a":10,"d":36,"v":1},{"a":11,"d":36,"v":0.93},{"a":12,"d":36,"v":0.6},{"a":13,"d":36,"v":0.85},{"a":14,"d":36,"v":0.78},
{"a":1,"d":37,"v":0.58},{"a":2,"d":37,"v":0.87},{"a":3,"d":37,"v":1},{"a":4,"d":37,"v":0.6},{"a":5,"d":37,"v":0.8},{"a":6,"d":37,"v":0.88},{"a":7,"d":37,"v":0.24},{"a":8,"d":37,"v":1},{"a":9,"d":37,"v":1},{"a":10,"d":37,"v":0.92},{"a":11,"d":37,"v":0.65},{"a":12,"d":37,"v":0.62},{"a":13,"d":37,"v":0.78},
{"a":1,"d":38,"v":0.58},{"a":2,"d":38,"v":0.88},{"a":3,"d":38,"v":1},{"a":4,"d":38,"v":0.65},{"a":5,"d":38,"v":0.85},{"a":6,"d":38,"v":0.9},{"a":7,"d":38,"v":1},{"a":8,"d":38,"v":1},{"a":9,"d":38,"v":0.9},{"a":10,"d":38,"v":0.66},{"a":11,"d":38,"v":0.84},{"a":12,"d":38,"v":1},
{"a":1,"d":39,"v":0.58},{"a":2,"d":39,"v":0.92},{"a":3,"d":39,"v":1},{"a":4,"d":39,"v":0.8},{"a":5,"d":39,"v":0.87},{"a":6,"d":39,"v":1},{"a":7,"d":39,"v":0.8},{"a":8,"d":39,"v":0.92},{"a":9,"d":39,"v":0.86},{"a":10,"d":39,"v":0.84},{"a":11,"d":39,"v":1},
{"a":1,"d":40,"v":0.58},{"a":2,"d":40,"v":0.85},{"a":3,"d":40,"v":0.96},{"a":4,"d":40,"v":0.82},{"a":5,"d":40,"v":1},{"a":6,"d":40,"v":0.76},{"a":7,"d":40,"v":0.9},{"a":8,"d":40,"v":0.65},{"a":9,"d":40,"v":0.86},{"a":10,"d":40,"v":1},
{"a":1,"d":41,"v":0.63},{"a":2,"d":41,"v":0.78},{"a":3,"d":41,"v":1},{"a":4,"d":41,"v":0.73},{"a":5,"d":41,"v":0.78},{"a":6,"d":41,"v":0.86},{"a":7,"d":41,"v":0.92},{"a":8,"d":41,"v":0.87},{"a":9,"d":41,"v":1},
{"a":1,"d":42,"v":0.86},{"a":2,"d":42,"v":0.78},{"a":3,"d":42,"v":0.85},{"a":4,"d":42,"v":1},{"a":5,"d":42,"v":0.87},{"a":6,"d":42,"v":0.87},{"a":7,"d":42,"v":0.22},{"a":8,"d":42,"v":1},
{"a":1,"d":43,"v":0.87},{"a":2,"d":43,"v":0.72},{"a":3,"d":43,"v":1},{"a":4,"d":43,"v":0.92},{"a":5,"d":43,"v":0.88},{"a":6,"d":43,"v":0.9},{"a":7,"d":43,"v":0.76},
{"a":1,"d":44,"v":0.92},{"a":2,"d":44,"v":0.82},{"a":3,"d":44,"v":1},{"a":4,"d":44,"v":0.63},{"a":5,"d":44,"v":0.9},{"a":6,"d":44,"v":0.75},
{"a":1,"d":45,"v":1},{"a":2,"d":45,"v":0.92},{"a":3,"d":45,"v":1},{"a":4,"d":45,"v":0.8},{"a":5,"d":45,"v":0.75},
{"a":1,"d":46,"v":1},{"a":2,"d":46,"v":0.74},{"a":3,"d":46,"v":0.88},{"a":4,"d":46,"v":1},
{"a":1,"d":47,"v":0.7},{"a":2,"d":47,"v":0.74},{"a":3,"d":47,"v":1},
{"a":1,"d":48,"v":0.84},{"a":2,"d":48,"v":0.82},
{"a":1,"d":49,"v":1}
]},
"layer":[
{"data":{"values":[{"part":"bar"}]},"mark":{"type":"rect","fill":"#A6CEE3"},"encoding":{"x":{"datum":1,"type":"quantitative","axis":null,"scale":{"domain":[-4.004,53.503],"nice":false,"zero":false}},"x2":{"datum":50},"y":{"datum":-11.507,"type":"quantitative","axis":null,"scale":{"domain":[-29.03,56.07],"reverse":true,"nice":false,"zero":false}},"y2":{"datum":-7.519}}},
{"data":{"name":"snps"},"transform":[{"calculate":"1+datum.kb*49/15.62","as":"u"}],"mark":{"type":"rule","strokeWidth":3},"encoding":{"x":{"field":"u","type":"quantitative","axis":null,"scale":{"domain":[-4.004,53.503],"nice":false,"zero":false}},"y":{"datum":-11.507,"type":"quantitative","axis":null,"scale":{"domain":[-29.03,56.07],"reverse":true,"nice":false,"zero":false}},"y2":{"datum":-7.519},"stroke":{"field":"k","type":"nominal","legend":null,"scale":{"domain":["p","g"],"range":["#E78AC3","#888E8F"]}}}},
{"data":{"name":"snps"},"transform":[{"calculate":"1+datum.kb*49/15.62","as":"u"}],"mark":{"type":"rule","strokeWidth":3,"color":"#008000"},"encoding":{"x":{"field":"u","type":"quantitative","axis":null,"scale":{"domain":[-4.004,53.503],"nice":false,"zero":false}},"x2":{"field":"i"},"y":{"datum":-7.519,"type":"quantitative","axis":null,"scale":{"domain":[-29.03,56.07],"reverse":true,"nice":false,"zero":false}},"y2":{"datum":-1.017}}},
{"data":{"name":"cells"},"transform":[{"calculate":"datum.a+datum.d/2","as":"m"}],"mark":{"type":"point","shape":"diamond","filled":true,"size":4826,"opacity":1,"stroke":"white","strokeWidth":1.2},"encoding":{"x":{"field":"m","type":"quantitative","axis":null,"scale":{"domain":[-4.004,53.503],"nice":false,"zero":false}},"y":{"field":"d","type":"quantitative","axis":null,"scale":{"domain":[-29.03,56.07],"reverse":true,"nice":false,"zero":false}},"fill":{"field":"v","type":"quantitative","legend":null,"scale":{"domain":[0,0.5,1],"range":["#FFFFFF","#F0EA48","#FF0000"],"interpolate":"rgb"}}}},
{"data":{"name":"blocks"},"mark":{"type":"line","color":"black","strokeWidth":3,"strokeJoin":"miter"},"encoding":{"x":{"field":"x","type":"quantitative","axis":null,"scale":{"domain":[-4.004,53.503],"nice":false,"zero":false}},"y":{"field":"y","type":"quantitative","axis":null,"scale":{"domain":[-29.03,56.07],"reverse":true,"nice":false,"zero":false}},"detail":{"field":"b"},"order":{"field":"o"}}},
{"data":{"values":[{"part":"key"}]},"mark":{"type":"rect","stroke":"black","strokeWidth":3,"fill":{"gradient":"linear","x1":0,"y1":0,"x2":1,"y2":0,"stops":[{"offset":0,"color":"#FFFFFF"},{"offset":0.5,"color":"#F0EA48"},{"offset":1,"color":"#FF0000"}]}},"encoding":{"x":{"datum":34.315,"type":"quantitative","axis":null,"scale":{"domain":[-4.004,53.503],"nice":false,"zero":false}},"x2":{"datum":51.186},"y":{"datum":48.49,"type":"quantitative","axis":null,"scale":{"domain":[-29.03,56.07],"reverse":true,"nice":false,"zero":false}},"y2":{"datum":51.09}}},
{"data":{"values":[{"label":"Start:109.708","px":1,"py":-13.17,"s":"s"},{"label":"chr1 Region:15.62 (kb)","px":25.5,"py":-13.17,"s":"s"},{"label":"End:109.723 (Mb)","px":50,"py":-13.17,"s":"s"},{"label":"D' Color Key","px":42.68,"py":45.29,"s":"t"},{"label":"0.0","px":34.315,"py":52.76,"s":"n"},{"label":"1.0","px":51.186,"py":52.76,"s":"n"}]},"mark":{"type":"text","font":"Liberation Sans","color":"black","align":"center","baseline":"middle"},"encoding":{"x":{"field":"px","type":"quantitative","axis":null,"scale":{"domain":[-4.004,53.503],"nice":false,"zero":false}},"y":{"field":"py","type":"quantitative","axis":null,"scale":{"domain":[-29.03,56.07],"reverse":true,"nice":false,"zero":false}},"text":{"field":"label"},"size":{"field":"s","type":"nominal","legend":null,"scale":{"type":"ordinal","domain":["s","t","n"],"range":[43.3,86,81]}}}}
]}
